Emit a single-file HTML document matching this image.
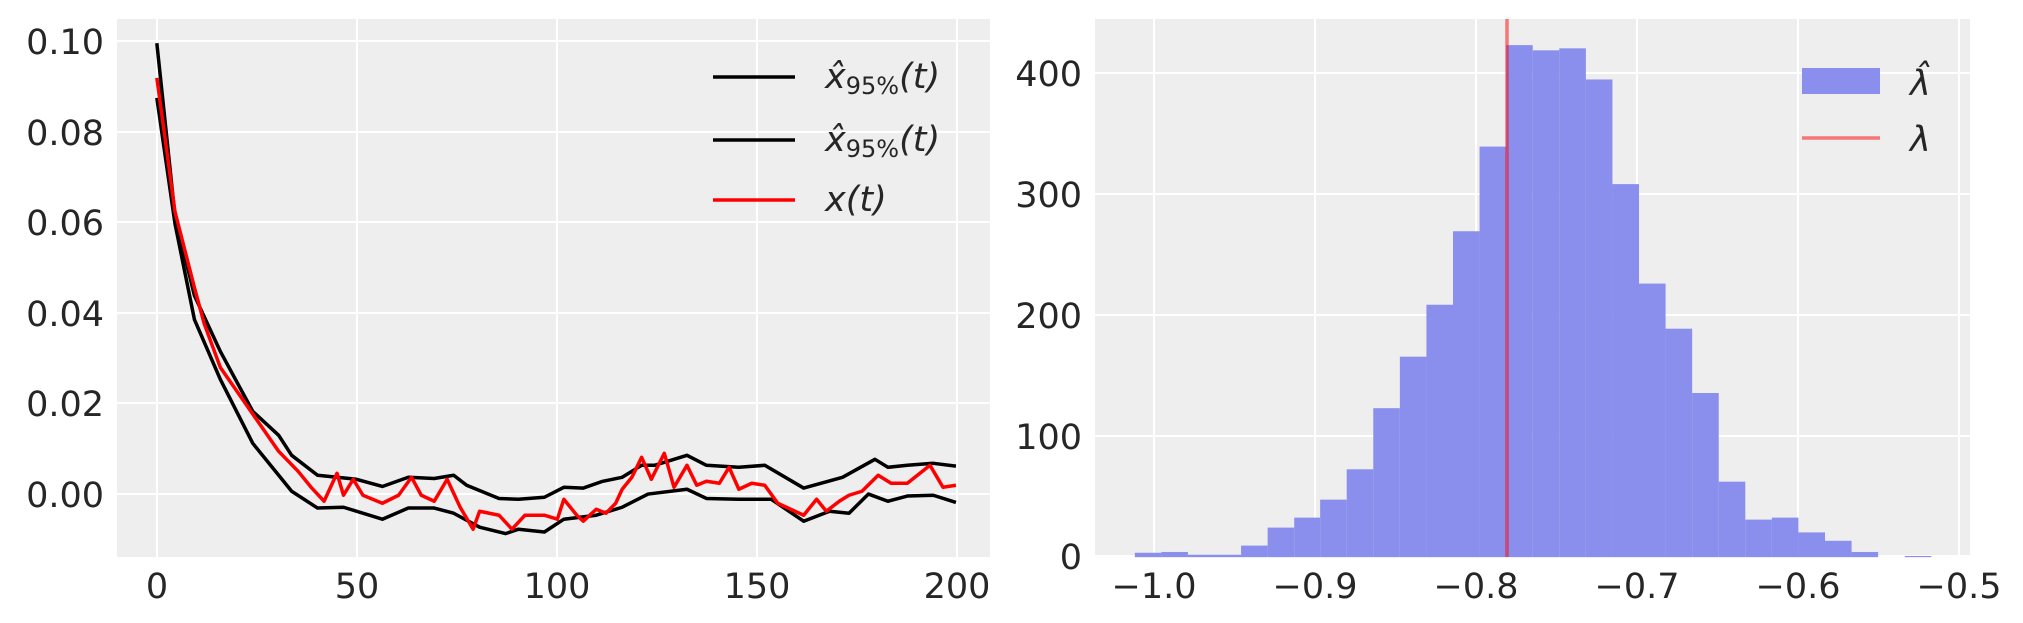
<!DOCTYPE html>
<html><head><meta charset="utf-8"><style>
html,body{margin:0;padding:0;background:#fff;}
svg{display:block;}
text{font-family:"DejaVu Sans","Liberation Sans",sans-serif;fill:#262626;}
.t{font-size:35px;}
</style></head><body>
<svg width="2023" height="623" viewBox="0 0 2023 623" xmlns="http://www.w3.org/2000/svg">
<!-- Left axes -->
<rect x="117" y="19" width="873" height="538" fill="#eeeeee"/>
<g stroke="#fff" stroke-width="2">
<line x1="157" y1="19" x2="157" y2="557"/><line x1="357" y1="19" x2="357" y2="557"/><line x1="557" y1="19" x2="557" y2="557"/><line x1="757" y1="19" x2="757" y2="557"/><line x1="957" y1="19" x2="957" y2="557"/>
<line x1="117" y1="41" x2="990" y2="41"/><line x1="117" y1="132" x2="990" y2="132"/><line x1="117" y1="222" x2="990" y2="222"/><line x1="117" y1="313" x2="990" y2="313"/><line x1="117" y1="403" x2="990" y2="403"/><line x1="117" y1="494" x2="990" y2="494"/>
</g>
<g class="t" text-anchor="end">
<text x="104" y="54">0.10</text><text x="104" y="145">0.08</text><text x="104" y="235">0.06</text><text x="104" y="326">0.04</text><text x="104" y="416">0.02</text><text x="104" y="507">0.00</text>
</g>
<g class="t" text-anchor="middle">
<text x="157" y="598">0</text><text x="357" y="598">50</text><text x="557" y="598">100</text><text x="757" y="598">150</text><text x="957" y="598">200</text>
</g>
<g transform="scale(0.6481,0.3994)" fill="none" stroke-linejoin="round">
<polyline vector-effect="non-scaling-stroke" stroke="#000" stroke-width="3.5" points="242,108 270,540 300,740 340,880 390,1030 430,1090 450,1140 490,1190 550,1200 590,1218 630,1195 670,1198 700,1190 720,1215 770,1248 800,1250 840,1245 870,1220 900,1222 930,1205 960,1195 990,1165 1010,1165 1060,1140 1090,1165 1140,1170 1180,1165 1240,1222 1300,1195 1350,1150 1370,1170 1400,1165 1440,1160 1475,1167"/>
<polyline vector-effect="non-scaling-stroke" stroke="#000" stroke-width="3.5" points="242,245 270,560 300,800 340,950 390,1110 430,1190 450,1230 490,1272 530,1270 590,1300 630,1272 670,1272 700,1285 740,1320 780,1336 800,1325 840,1332 870,1300 920,1290 960,1270 1000,1237 1060,1225 1090,1248 1140,1250 1190,1250 1240,1305 1280,1280 1310,1285 1340,1237 1370,1255 1400,1242 1440,1240 1475,1258"/>
<polyline vector-effect="non-scaling-stroke" stroke="#f00" stroke-width="3.5" points="242,195 250,290 270,530 300,720 315,810 340,920 370,990 400,1060 430,1130 460,1180 480,1220 500,1255 520,1185 530,1240 545,1200 560,1240 590,1260 615,1240 635,1195 650,1240 670,1255 690,1200 710,1270 730,1325 740,1280 770,1290 790,1325 810,1290 840,1290 860,1300 870,1250 890,1290 900,1305 920,1275 935,1285 950,1260 960,1225 975,1195 990,1145 1005,1200 1025,1135 1040,1220 1060,1165 1075,1215 1090,1205 1110,1210 1125,1170 1140,1225 1160,1210 1180,1215 1200,1260 1220,1275 1240,1290 1260,1250 1275,1280 1295,1255 1310,1240 1330,1230 1355,1190 1375,1210 1400,1210 1435,1165 1455,1220 1475,1215"/>
</g>
<!-- Left legend -->
<line x1="713" y1="77" x2="795" y2="77" stroke="#000" stroke-width="3.5"/>
<line x1="713" y1="140" x2="795" y2="140" stroke="#000" stroke-width="3.5"/>
<line x1="713" y1="200" x2="795" y2="200" stroke="#f00" stroke-width="3.5"/>
<g class="t">
<text x="825" y="88" font-style="italic">x̂<tspan font-size="24" font-style="normal" dy="6">95%</tspan><tspan dy="-6">(t)</tspan></text>
<text x="825" y="151" font-style="italic">x̂<tspan font-size="24" font-style="normal" dy="6">95%</tspan><tspan dy="-6">(t)</tspan></text>
<text x="825" y="211" font-style="italic">x(t)</text>
</g>
<!-- Right axes -->
<rect x="1095" y="19" width="875" height="538" fill="#eeeeee"/>
<g stroke="#fff" stroke-width="2">
<line x1="1154" y1="19" x2="1154" y2="557"/><line x1="1315" y1="19" x2="1315" y2="557"/><line x1="1476" y1="19" x2="1476" y2="557"/><line x1="1637" y1="19" x2="1637" y2="557"/><line x1="1798" y1="19" x2="1798" y2="557"/><line x1="1959" y1="19" x2="1959" y2="557"/>
<line x1="1095" y1="73" x2="1970" y2="73"/><line x1="1095" y1="194" x2="1970" y2="194"/><line x1="1095" y1="315" x2="1970" y2="315"/><line x1="1095" y1="436" x2="1970" y2="436"/><line x1="1095" y1="556" x2="1970" y2="556"/>
</g>
<g class="t" text-anchor="end">
<text x="1082" y="86">400</text><text x="1082" y="207">300</text><text x="1082" y="328">200</text><text x="1082" y="449">100</text><text x="1082" y="569">0</text>
</g>
<g class="t" text-anchor="middle">
<text x="1154" y="598">−1.0</text><text x="1315" y="598">−0.9</text><text x="1476" y="598">−0.8</text><text x="1637" y="598">−0.7</text><text x="1798" y="598">−0.6</text><text x="1959" y="598">−0.5</text>
</g>
<g transform="translate(1011,0) scale(0.6481,0.3994)" fill="#8a8eec">
<rect x="191" y="1384" width="41" height="11"/><rect x="232" y="1382" width="41" height="13"/><rect x="273" y="1389" width="41" height="6"/><rect x="314" y="1389" width="41" height="6"/><rect x="355" y="1366" width="41" height="29"/><rect x="396" y="1321" width="41" height="74"/><rect x="437" y="1296" width="40" height="99"/><rect x="477" y="1251" width="41" height="144"/><rect x="518" y="1175" width="41" height="220"/><rect x="559" y="1022" width="41" height="373"/><rect x="600" y="893" width="41" height="502"/><rect x="641" y="763" width="41" height="632"/><rect x="682" y="579" width="41" height="816"/><rect x="723" y="367" width="41" height="1028"/><rect x="764" y="113" width="41" height="1282"/><rect x="805" y="126" width="41" height="1269"/><rect x="846" y="121" width="41" height="1274"/><rect x="887" y="199" width="41" height="1196"/><rect x="928" y="461" width="41" height="934"/><rect x="969" y="710" width="41" height="685"/><rect x="1010" y="823" width="41" height="572"/><rect x="1051" y="984" width="41" height="411"/><rect x="1092" y="1206" width="41" height="189"/><rect x="1133" y="1301" width="41" height="94"/><rect x="1174" y="1296" width="41" height="99"/><rect x="1215" y="1333" width="41" height="62"/><rect x="1256" y="1354" width="41" height="41"/><rect x="1297" y="1382" width="41" height="13"/><rect x="1379" y="1392" width="41" height="3"/>
</g>
<line x1="1507" y1="19" x2="1507" y2="557" stroke="rgba(255,0,0,0.5)" stroke-width="3.5"/>
<rect x="1802" y="68" width="78" height="26" fill="#8a8eec"/>
<line x1="1802" y1="138" x2="1880" y2="138" stroke="rgba(255,0,0,0.5)" stroke-width="3.5"/>
<g class="t" font-style="italic">
<text x="1910" y="95">λ̂</text>
<text x="1910" y="151">λ</text>
</g>
</svg>
</body></html>
